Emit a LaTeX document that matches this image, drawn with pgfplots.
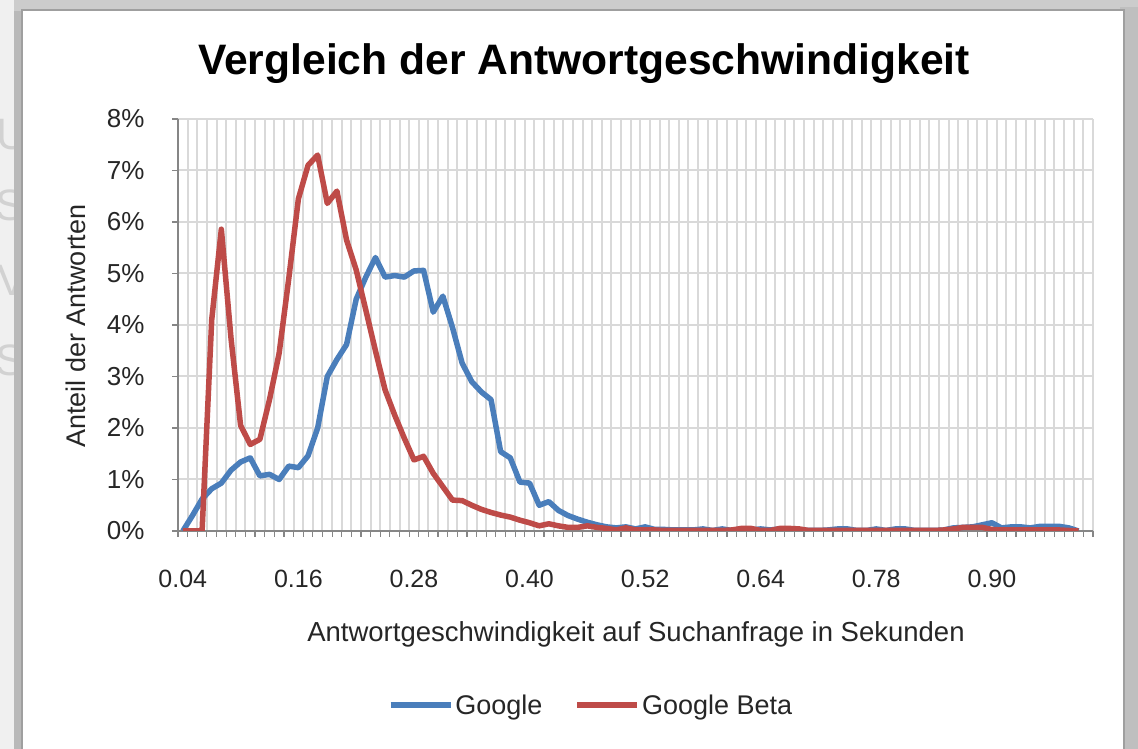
\documentclass[border=0pt]{standalone}
\usepackage{fontspec}
\setmainfont{Liberation Sans}
\usepackage{pgfplots}
\usepackage{pgfplotstable}
\pgfplotsset{compat=1.18}
\definecolor{gblue}{HTML}{4A7EBB}
\definecolor{gred}{HTML}{BE4B48}
\definecolor{gridc}{HTML}{D9D9D9}
\definecolor{axc}{HTML}{868686}

\pgfplotstableread{
i google beta
0 0 0
1 0.30 0
2 0.62 0
3 0.82 4.10
4 0.93 5.86
5 1.18 3.75
6 1.34 2.05
7 1.42 1.68
8 1.07 1.78
9 1.10 2.55
10 1.00 3.45
11 1.26 4.90
12 1.23 6.45
13 1.46 7.10
14 2.00 7.30
15 3.00 6.36
16 3.33 6.60
17 3.62 5.65
18 4.50 5.07
19 4.93 4.29
20 5.31 3.50
21 4.93 2.74
22 4.96 2.25
23 4.93 1.80
24 5.05 1.38
25 5.06 1.45
26 4.25 1.12
27 4.56 0.86
28 3.95 0.60
29 3.26 0.59
30 2.90 0.50
31 2.70 0.42
32 2.55 0.36
33 1.54 0.31
34 1.42 0.27
35 0.95 0.21
36 0.93 0.16
37 0.50 0.10
38 0.57 0.14
39 0.40 0.10
40 0.30 0.07
41 0.23 0.07
42 0.17 0.10
43 0.12 0.07
44 0.08 0.05
45 0.06 0.02
46 0.08 0.06
47 0.04 0.02
48 0.08 0.02
49 0.03 0.02
50 0.03 0.01
51 0.02 0.01
52 0.02 0.01
53 0.02 0.01
54 0.04 0.01
55 0.01 0.01
56 0.04 0.01
57 0.01 0.02
58 0.01 0.05
59 0.02 0.05
60 0.04 0.01
61 0.02 0.01
62 0.04 0.05
63 0.04 0.05
64 0.01 0.04
65 0.01 0.01
66 0.01 0.01
67 0.02 0.01
68 0.04 0.01
69 0.04 0.01
70 0.01 0.01
71 0.01 0.01
72 0.04 0.01
73 0.01 0.01
74 0.04 0.01
75 0.04 0.01
76 0.01 0.01
77 0.01 0.01
78 0.01 0.01
79 0.02 0.02
80 0.06 0.04
81 0.07 0.07
82 0.08 0.07
83 0.12 0.07
84 0.16 0.03
85 0.06 0.02
86 0.08 0.02
87 0.08 0.02
88 0.06 0.02
89 0.09 0.02
90 0.09 0.02
91 0.09 0.02
92 0.06 0.01
93 0.00 0.00
}\datatable

\begin{document}
\begin{tikzpicture}[x=1pt,y=1pt]
\useasboundingbox (0,0) rectangle (1138,749);
% frame / background
\fill[gray!12] (0,0) rectangle (1138,749);
\begin{scope}
\clip (0,0) rectangle (1138,749);
\node[gray!35,font=\fontsize{44}{50}\selectfont] at (12,614) {U};
\node[gray!35,font=\fontsize{44}{50}\selectfont] at (10,544) {S};
\node[gray!35,font=\fontsize{44}{50}\selectfont] at (12,469) {V};
\node[gray!35,font=\fontsize{44}{50}\selectfont] at (10,389) {S};
\end{scope}
\fill[gray!55] (14,0) rectangle (24,742);
\fill[gray!40] (14,738) rectangle (1138,749);
\fill[gray!50] (1120,0) rectangle (1138,742);
\fill[white] (22,0) rectangle (1124,739);
\draw[gray!75,line width=2pt] (22,0) -- (22,739) -- (1124,739) -- (1124,0);

\begin{axis}[
  at={(178pt,218pt)}, anchor=south west,
  scale only axis, width=915pt, height=412pt,
  xmin=-0.5, xmax=94.5, ymin=0, ymax=8,
  axis x line=bottom, axis y line=left,
  axis line style={-, axc, line width=1.5pt},
  tick align=outside,
  xtick={0,12,24,36,48,60,72,84},
  xticklabels={0.04,0.16,0.28,0.40,0.52,0.64,0.78,0.90},
  major x tick style={draw=none},
  minor xtick={-0.5,0.5,...,94.5},
  xminorgrids=true,
  minor tick length=6pt,
  minor x tick style={axc, line width=1.2pt},
  minor grid style={gridc, line width=2pt},
  ytick={0,1,...,8},
  yticklabels={0\%,1\%,2\%,3\%,4\%,5\%,6\%,7\%,8\%},
  ymajorgrids=true,
  major grid style={gridc, line width=2pt},
  major tick length=6pt,
  y tick style={axc, line width=1.2pt},
  ticklabel style={text=black!85},
  xticklabel style={yshift=-30pt, font=\fontsize{25}{30}\selectfont},
  yticklabel style={xshift=-24pt, font=\fontsize{26}{30}\selectfont},
  /pgf/number format/assume math mode=true,
  legend columns=2,
  legend style={at={(0.4514,-0.4223)}, anchor=center, draw=none, fill=none,
    font=\fontsize{27}{30}\selectfont, text=black!85,
    /tikz/every even column/.append style={column sep=30pt},
    inner sep=0pt},
  legend image code/.code={\draw[#1, line width=5.5pt] (0pt,0pt) -- (60pt,0pt);},
]
\addplot[gblue, line width=5.5pt, line join=round, no markers] table[x=i, y=google] {\datatable};
\addlegendentry{Google}
\addplot[gred, line width=5.5pt, line join=round, no markers] table[x=i, y=beta] {\datatable};
\addlegendentry{Google Beta}
\end{axis}

\node[anchor=base, font=\fontsize{42.6}{50}\selectfont\bfseries] at (584,674) {Vergleich der Antwortgeschwindigkeit};
\node[anchor=base, font=\fontsize{27.5}{30}\selectfont, text=black!85] at (636,107) {Antwortgeschwindigkeit auf Suchanfrage in Sekunden};
\node[rotate=90, font=\fontsize{27}{30}\selectfont, text=black!85] at (76,423) {Anteil der Antworten};
\end{tikzpicture}
\end{document}
